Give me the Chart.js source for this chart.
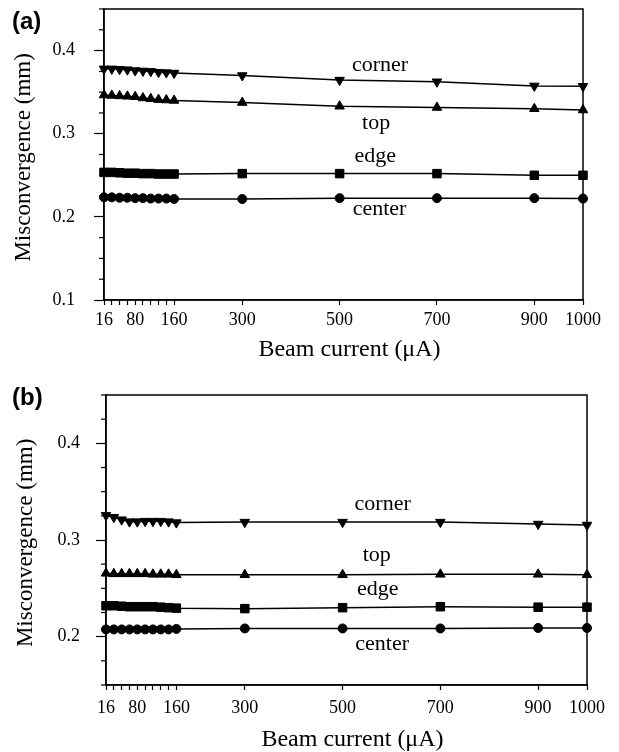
<!DOCTYPE html>
<html>
<head>
<meta charset="utf-8">
<script src="https://cdn.jsdelivr.net/npm/chart.js@4.4.1/dist/chart.umd.min.js"></script>
<style>
  html, body { margin: 0; padding: 0; background: #fff; }
  #wrap { position: relative; width: 619px; height: 752px; }
  canvas { position: absolute; left: 0; }
</style>
</head>
<body>
<div id="wrap">
  <canvas id="ca" width="619" height="370" style="top:0"></canvas>
  <canvas id="cb" width="619" height="382" style="top:370px"></canvas>
</div>
<script>
// ---------- data ----------
const beamCurrent = [16, 32, 48, 64, 80, 96, 112, 128, 144, 160, 300, 500, 700, 900, 1000];

const cornerA = [0.378, 0.378, 0.3775, 0.377, 0.376, 0.3755, 0.375, 0.374, 0.3735, 0.373, 0.370, 0.3645, 0.3625, 0.3575, 0.357];
const topA    = [0.3465, 0.346, 0.3455, 0.345, 0.3445, 0.343, 0.342, 0.341, 0.3405, 0.340, 0.3375, 0.333, 0.3315, 0.330, 0.3285];
const edgeA   = [0.2535, 0.2535, 0.253, 0.2525, 0.2525, 0.252, 0.252, 0.2515, 0.2515, 0.2515, 0.252, 0.252, 0.252, 0.250, 0.250];
const centerA = [0.2235, 0.2235, 0.223, 0.223, 0.2225, 0.2225, 0.222, 0.222, 0.222, 0.2215, 0.2215, 0.2225, 0.2225, 0.2225, 0.222];

const cornerB = [0.3255, 0.3235, 0.321, 0.319, 0.319, 0.3195, 0.3195, 0.3195, 0.319, 0.318, 0.3185, 0.3185, 0.3185, 0.3165, 0.3155];
const topB    = [0.2655, 0.265, 0.265, 0.265, 0.265, 0.265, 0.2645, 0.2645, 0.2645, 0.264, 0.264, 0.264, 0.2645, 0.2645, 0.264];
const edgeB   = [0.232, 0.232, 0.2315, 0.231, 0.231, 0.231, 0.231, 0.2305, 0.230, 0.2295, 0.229, 0.230, 0.231, 0.2305, 0.2305];
const centerB = [0.2075, 0.2075, 0.2075, 0.2075, 0.2075, 0.2075, 0.2075, 0.2075, 0.2075, 0.208, 0.2085, 0.2085, 0.2085, 0.209, 0.209];

const xTickValues = [16, 32, 48, 64, 80, 96, 112, 128, 144, 160, 300, 500, 700, 900, 1000];
const xTickLabels = ['16', '', '', '', '80', '', '', '', '', '160', '300', '500', '700', '900', '1000'];

const yTickValuesA = [0.1, 0.125, 0.15, 0.175, 0.2, 0.225, 0.25, 0.275, 0.3, 0.325, 0.35, 0.375, 0.4, 0.425, 0.45];
const yTickLabelsA = ['0.1', '', '', '', '0.2', '', '', '', '0.3', '', '', '', '0.4', '', ''];
const yTickValuesB = [0.15, 0.175, 0.2, 0.225, 0.25, 0.275, 0.3, 0.325, 0.35, 0.375, 0.4, 0.425, 0.45];
const yTickLabelsB = ['', '', '0.2', '', '', '', '0.3', '', '', '', '0.4', '', ''];

const seriesNames = ['corner', 'top', 'edge', 'center'];
// curve label anchors, in data units
const noteXA = [583, 575, 573, 582];
const noteYA = [0.3822, 0.3122, 0.2728, 0.2091];
const noteXB = [582, 570, 572, 581];
const noteYB = [0.3369, 0.2845, 0.249, 0.1921];

const xTitle = '\u00a0\u00a0Beam current (μA)';
const yTitle = 'Misconvergence (mm)\u00a0';

// ---------- helpers ----------
const SERIF = '"Liberation Serif", "Times New Roman", serif';

function makeDatasets(corner, top, edge, center) {
  const pts = arr => beamCurrent.map((x, i) => ({ x: x, y: arr[i] }));
  const base = {
    borderColor: '#000', backgroundColor: '#000', borderWidth: 1.5,
    pointBorderColor: '#000', pointBackgroundColor: '#000', pointBorderWidth: 1,
    tension: 0, clip: false, showLine: true
  };
  return [
    Object.assign({}, base, { label: 'corner', data: pts(corner), pointStyle: 'triangle', pointRotation: 180, pointRadius: 5.5 }),
    Object.assign({}, base, { label: 'top', data: pts(top), pointStyle: 'triangle', pointRadius: 5.5 }),
    Object.assign({}, base, { label: 'edge', data: pts(edge), pointStyle: 'rect', pointRadius: 6 }),
    Object.assign({}, base, { label: 'center', data: pts(center), pointStyle: 'circle', pointRadius: 4.5 })
  ];
}

function makeChart(canvasId, cfg) {
  const annot = {
    id: 'annot',
    afterDraw(chart) {
      const ctx = chart.ctx;
      const a = chart.chartArea;
      const xs = chart.scales.x, ys = chart.scales.y;
      ctx.save();
      // frame
      ctx.strokeStyle = '#000';
      ctx.lineWidth = 1.5;
      ctx.strokeRect(a.left, a.top, a.right - a.left, a.bottom - a.top);
      // minor y ticks (shorter)
      ctx.lineWidth = 1.2;
      ys.ticks.forEach((t, i) => {
        if (!cfg.yLabels[i]) {
          const py = ys.getPixelForValue(t.value);
          ctx.beginPath();
          ctx.moveTo(a.left - 5, py);
          ctx.lineTo(a.left, py);
          ctx.stroke();
        }
      });
      // curve labels
      ctx.fillStyle = '#000';
      ctx.font = '22px ' + SERIF;
      ctx.textAlign = 'center';
      ctx.textBaseline = 'middle';
      seriesNames.forEach((name, i) => {
        ctx.fillText(name, xs.getPixelForValue(cfg.noteX[i]), ys.getPixelForValue(cfg.noteY[i]));
      });
      // panel letter
      ctx.font = 'bold 24px "Liberation Sans", Arial, sans-serif';
      ctx.textAlign = 'left';
      ctx.fillText(cfg.panel, cfg.panelX, cfg.panelY);
      ctx.restore();
    }
  };

  return new Chart(document.getElementById(canvasId), {
    type: 'line',
    data: { datasets: makeDatasets.apply(null, cfg.series) },
    options: {
      responsive: false,
      animation: false,
      devicePixelRatio: 1,
      layout: { autoPadding: false, padding: cfg.padding },
      plugins: { legend: { display: false }, tooltip: { enabled: false } },
      scales: {
        x: {
          type: 'linear',
          min: 16, max: 1000,
          afterBuildTicks: s => { s.ticks = xTickValues.map(v => ({ value: v })); },
          afterFit: s => { s.height = cfg.xAxisHeight; },
          ticks: {
            autoSkip: false, maxRotation: 0, minRotation: 0,
            color: '#000', padding: cfg.xTickPad,
            font: { family: SERIF, size: 18 },
            callback: (v, i) => xTickLabels[i]
          },
          grid: { drawOnChartArea: false, drawTicks: true, tickLength: 5, tickColor: '#000', tickWidth: 1.2 },
          border: { display: true, color: '#000', width: 1.5 },
          title: {
            display: true, text: xTitle, color: '#000',
            font: { family: SERIF, size: 24, lineHeight: 1 },
            padding: { top: 0, bottom: 0 }
          }
        },
        y: {
          type: 'linear',
          min: cfg.yMin, max: 0.45,
          afterBuildTicks: s => { s.ticks = cfg.yValues.map(v => ({ value: v })); },
          afterFit: s => { s.width = cfg.yAxisWidth; s.paddingTop = 0; s.paddingBottom = 0; },
          ticks: {
            autoSkip: false, color: '#000', padding: cfg.yTickPad,
            font: { family: SERIF, size: 18, lineHeight: 1 },
            callback: (v, i) => cfg.yLabels[i]
          },
          grid: {
            drawOnChartArea: false, drawTicks: true, tickLength: 10, tickWidth: 1.2,
            tickColor: ctx => (ctx.index !== undefined && cfg.yLabels[ctx.index]) ? '#000' : 'rgba(0,0,0,0)'
          },
          border: { display: true, color: '#000', width: 1.5 },
          title: {
            display: true, text: yTitle, color: '#000',
            font: { family: SERIF, size: 23 },
            padding: { top: 0, bottom: 0 }
          }
        }
      }
    },
    plugins: [annot]
  });
}

makeChart('ca', {
  series: [cornerA, topA, edgeA, centerA],
  yMin: 0.1, yValues: yTickValuesA, yLabels: yTickLabelsA,
  noteX: noteXA, noteY: noteYA,
  panel: '(a)', panelX: 12, panelY: 22,
  padding: { left: 10.6, right: 36, top: 9, bottom: 8 },
  xAxisHeight: 62, yAxisWidth: 93.4,
  xTickPad: 4.5, yTickPad: 19
});

makeChart('cb', {
  series: [cornerB, topB, edgeB, centerB],
  yMin: 0.15, yValues: yTickValuesB, yLabels: yTickLabelsB,
  noteX: noteXB, noteY: noteYB,
  panel: '(b)', panelX: 12, panelY: 28,
  padding: { left: 12.6, right: 32, top: 25, bottom: 0.6 },
  xAxisHeight: 66.4, yAxisWidth: 93.4,
  xTickPad: 7.5, yTickPad: 16
});
</script>
</body>
</html>
